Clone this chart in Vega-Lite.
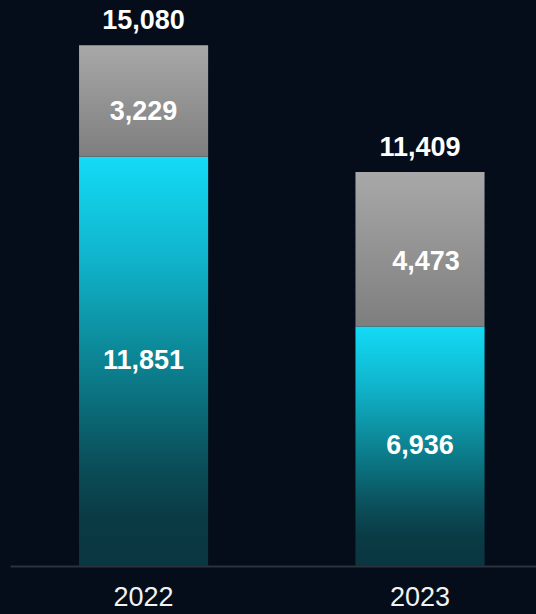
{
  "$schema": "https://vega.github.io/schema/vega-lite/v6.json",
  "width": 526,
  "height": 566,
  "autosize": {"type": "none"},
  "padding": {"left": 10, "top": 0, "right": 0, "bottom": 48},
  "background": "#040d19",
  "config": {"view": {"stroke": null}, "font": "Liberation Sans"},
  "data": {"values": [
    {"year": "2022", "segment": "base", "order": 1, "value": 11851},
    {"year": "2022", "segment": "other", "order": 2, "value": 3229},
    {"year": "2023", "segment": "base", "order": 1, "value": 6936},
    {"year": "2023", "segment": "other", "order": 2, "value": 4473}
  ]},
  "transform": [
    {"stack": "value", "groupby": ["year"], "sort": [{"field": "order", "order": "ascending"}], "as": ["y0", "y1"]},
    {"calculate": "(datum.y0 + datum.y1) / 2", "as": "mid"}
  ],
  "encoding": {
    "x": {"field": "year", "type": "nominal", "title": null,
      "scale": {"paddingInner": 0.533, "paddingOuter": 0.218, "align": 0.573},
      "axis": {"labelAngle": 0, "labelFontSize": 27, "labelColor": "#f2f2f2", "labelPadding": 18, "ticks": false, "tickSize": 0, "domainColor": "#2b323d", "domainWidth": 2, "grid": false}}
  },
  "layer": [
    {
      "transform": [{"filter": "datum.segment === 'base'"}],
      "mark": {"type": "bar", "color": {"gradient": "linear", "x1": 0, "y1": 0, "x2": 0, "y2": 1,
        "stops": [
          {"offset": 0, "color": "#14dbf6"},
          {"offset": 0.25, "color": "#10b4cb"},
          {"offset": 0.5, "color": "#0c8392"},
          {"offset": 0.75, "color": "#0a4f5a"},
          {"offset": 0.88, "color": "#0a3b45"},
          {"offset": 1, "color": "#0a3640"}
        ]}},
      "encoding": {
        "y": {"field": "y1", "type": "quantitative", "scale": {"domain": [0, 16387], "nice": false, "zero": true}, "axis": null},
        "y2": {"field": "y0"}
      }
    },
    {
      "transform": [{"filter": "datum.segment === 'other'"}],
      "mark": {"type": "bar", "color": {"gradient": "linear", "x1": 0, "y1": 0, "x2": 0, "y2": 1,
        "stops": [
          {"offset": 0, "color": "#a8a8a8"},
          {"offset": 1, "color": "#7e7e7e"}
        ]}},
      "encoding": {
        "y": {"field": "y1", "type": "quantitative"},
        "y2": {"field": "y0"}
      }
    },
    {
      "transform": [{"filter": "datum.segment === 'base'"}],
      "mark": {"type": "text", "fontSize": 27, "fontWeight": "bold", "color": "#ffffff", "baseline": "middle", "align": "center"},
      "encoding": {
        "y": {"field": "mid", "type": "quantitative"},
        "text": {"field": "value", "type": "quantitative", "format": ","}
      }
    },
    {
      "transform": [{"filter": "datum.segment === 'other' && datum.year === '2022'"}],
      "mark": {"type": "text", "fontSize": 27, "fontWeight": "bold", "color": "#ffffff", "baseline": "middle", "align": "center", "dy": 11},
      "encoding": {
        "y": {"field": "mid", "type": "quantitative"},
        "text": {"field": "value", "type": "quantitative", "format": ","}
      }
    },
    {
      "transform": [{"filter": "datum.segment === 'other' && datum.year === '2023'"}],
      "mark": {"type": "text", "fontSize": 27, "fontWeight": "bold", "color": "#ffffff", "baseline": "middle", "align": "center", "dy": 13, "dx": 6},
      "encoding": {
        "y": {"field": "mid", "type": "quantitative"},
        "text": {"field": "value", "type": "quantitative", "format": ","}
      }
    },
    {
      "transform": [{"filter": "datum.segment === 'other'"}],
      "mark": {"type": "text", "fontSize": 27, "fontWeight": "bold", "color": "#ffffff", "baseline": "alphabetic", "align": "center", "dy": -16},
      "encoding": {
        "y": {"field": "y1", "type": "quantitative"},
        "text": {"field": "y1", "type": "quantitative", "format": ","}
      }
    }
  ]
}
